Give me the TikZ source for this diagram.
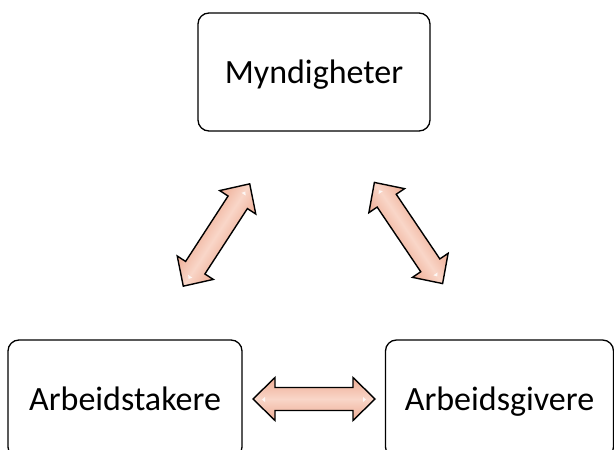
\documentclass[tikz,border=0pt]{standalone}
\usepackage{fontspec}
\setmainfont{Carlito}
\begin{document}
\begin{tikzpicture}[x=1pt,y=-1pt,
  party/.style={draw=black, line width=1.3pt, rounded corners=11pt,
    minimum width=#1, minimum height=118pt, inner sep=0pt,
    text height=22pt, text depth=0pt,
    font=\fontsize{34}{40}\selectfont, fill=white},
  party/.default=232pt,
  linkarrow/.style={draw=black, line width=1.4pt, line join=miter,
    top color=arrowedge, bottom color=arrowedge, middle color=arrowmid}
]
\definecolor{arrowedge}{RGB}{238,172,148}
\definecolor{arrowmid}{RGB}{249,214,200}
\useasboundingbox (0,0) rectangle (614,450);
\clip (0,0) rectangle (614,450);

% the three parties
\node[party] (myn) at (314,72) {Myndigheter};
\node[party=234pt] (tak) at (125,399) {Arbeidstakere};
\node[party=228pt] (giv) at (499.5,399) {Arbeidsgivere};

% two-headed block arrow, drawn along the local x axis
\newcommand\twowayarrow[3]{%
  \begin{scope}[transform canvas={shift={(#1,#2)}, rotate=#3}]
    \path[linkarrow] (-61,0) -- (-39,-21.5) -- (-39,-11.5) -- (39,-11.5)
      -- (39,-21.5) -- (61,0) -- (39,21.5) -- (39,11.5) -- (-39,11.5)
      -- (-39,21.5) -- cycle;
    \fill[white, opacity=0.8] (-52,0.5) -- (-49,-2) -- (-49,3) -- cycle;
    \fill[white, opacity=0.8] (52,0.5) -- (49,-2) -- (49,3) -- cycle;
  \end{scope}}

\twowayarrow{216.5}{235}{57}
\twowayarrow{408.5}{233}{-56}
\twowayarrow{314}{399}{0}
\end{tikzpicture}
\end{document}
